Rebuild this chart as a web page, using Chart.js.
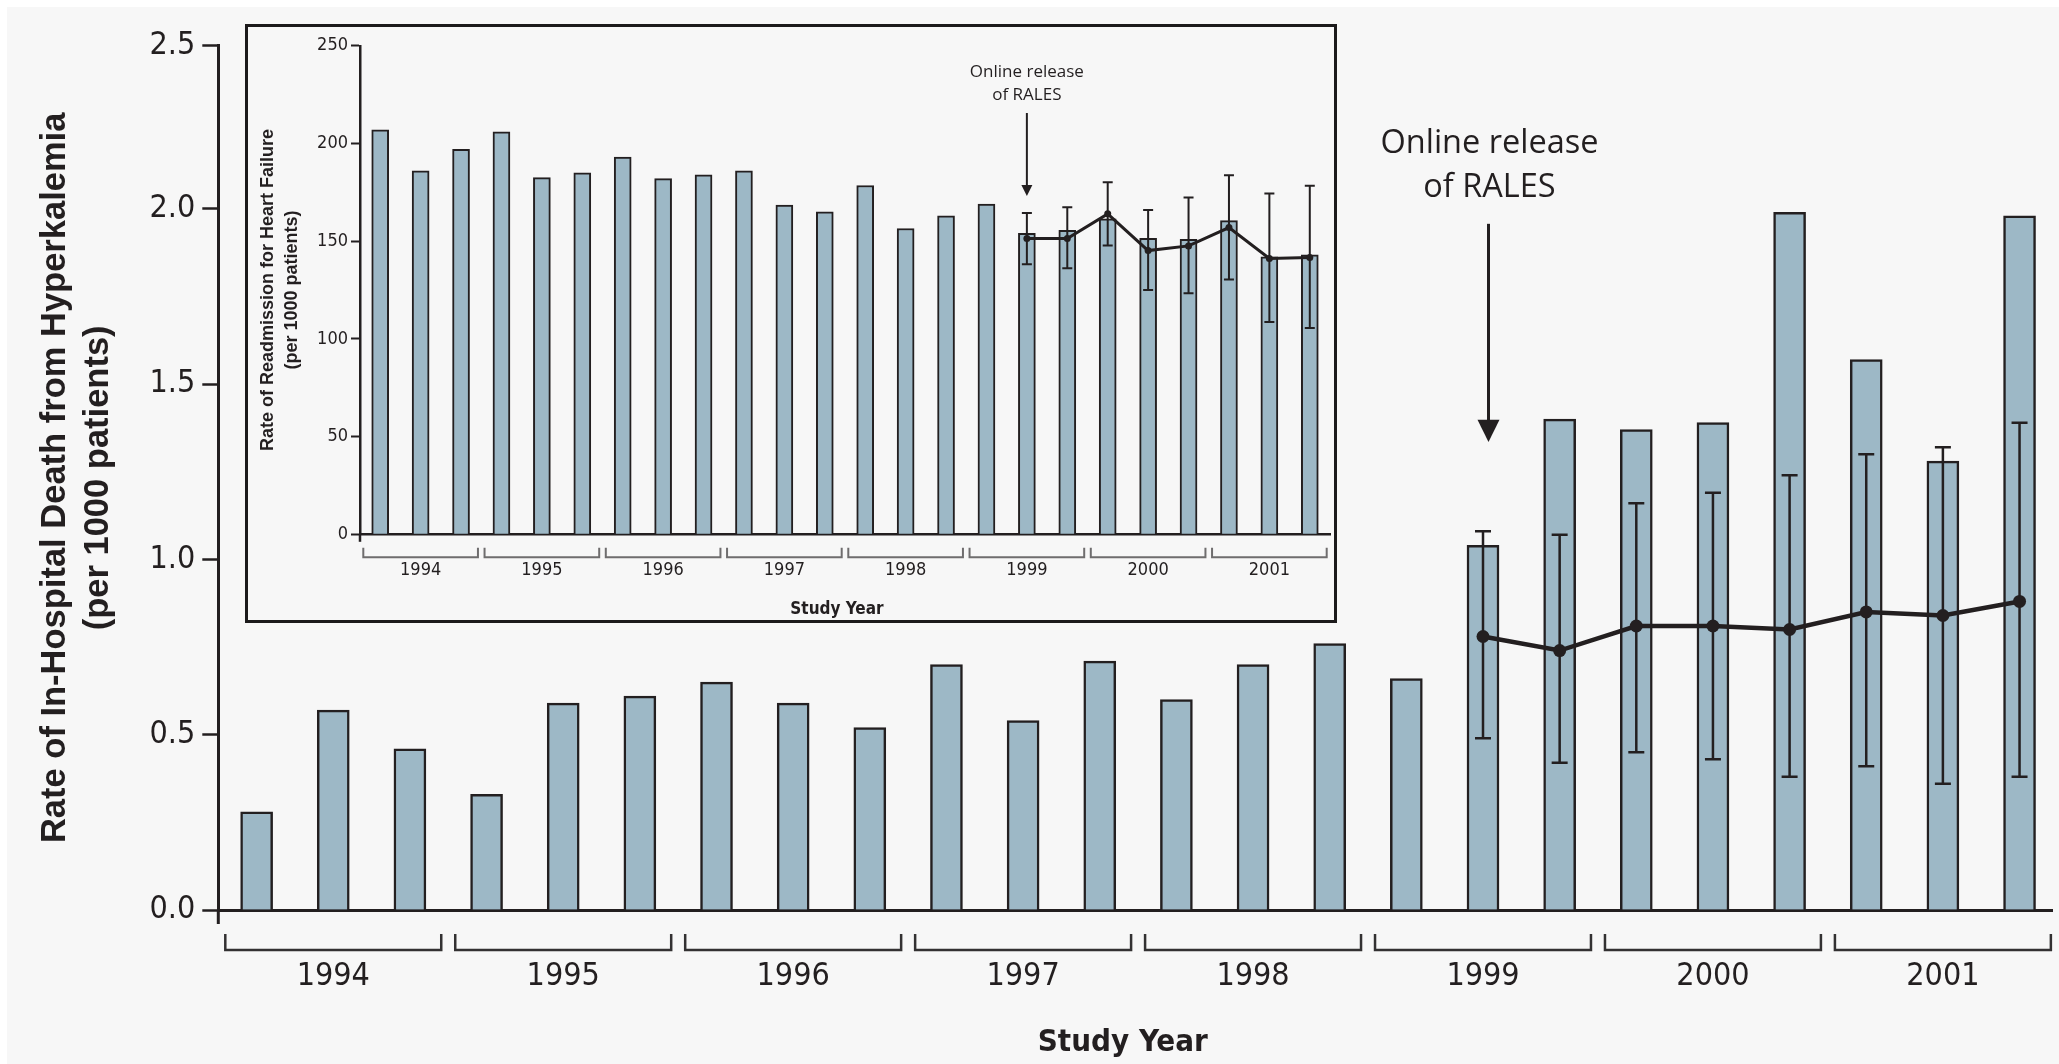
<!DOCTYPE html>
<html>
<head>
<meta charset="utf-8">
<title>Hyperkalemia deaths and heart-failure readmissions, 1994–2001</title>
<script src="https://cdn.jsdelivr.net/npm/chart.js@4.4.1/dist/chart.umd.min.js"></script>
<style>
  html, body { margin: 0; padding: 0; background: #ffffff; width: 2059px; height: 1064px; overflow: hidden; }
  #panel { position: absolute; left: 7px; top: 7px; right: 0; bottom: 0; background: #f7f7f7; }
  #main { position: absolute; left: 0; top: 0; }
  #insetBox { position: absolute; left: 245px; top: 24px; width: 1086px; height: 593px;
              border: 3px solid #1c1a1b; background: #f7f7f7; }
  #inset { display: block; }
</style>
</head>
<body>
<div id="panel"></div>
<canvas id="main" width="2059" height="1064"></canvas>
<div id="insetBox"><canvas id="inset" width="1086" height="593"></canvas></div>

<script>
// ---- data ----------------------------------------------------------------
const years = ['1994', '1995', '1996', '1997', '1998', '1999', '2000', '2001'];
const periodsPerYear = 3;

// In-hospital death from hyperkalemia (per 1000 patients), three periods per year
const deathRate = [0.28, 0.57, 0.46,  0.33, 0.59, 0.61,  0.65, 0.59, 0.52,
                   0.70, 0.54, 0.71,  0.60, 0.70, 0.76,  0.66, 1.04, 1.40,
                   1.37, 1.39, 1.99,  1.57, 1.28, 1.98];
// Expected rate after the RALES release (first period shown is index 16)
const expectedStart = 16;
const deathExpected = [0.78, 0.74, 0.81, 0.81, 0.80, 0.85, 0.84, 0.88];
const deathExpectedHigh = [1.08, 1.07, 1.16, 1.19, 1.24, 1.30, 1.32, 1.39];
const deathExpectedLow  = [0.49, 0.42, 0.45, 0.43, 0.38, 0.41, 0.36, 0.38];
const deathTicks = [0, 0.5, 1.0, 1.5, 2.0, 2.465];

// Readmission for heart failure (per 1000 patients)
const readmitRate = [207, 186, 197,  206, 182.5, 185,  193, 182, 184,
                     186, 168.5, 165,  178.5, 156.5, 163,  169, 154, 155.5,
                     161.5, 151.5, 151,  160.5, 142, 143];
const readmitExpected = [151.4, 151.4, 164, 145.2, 147.6, 157, 141.2, 141.6];
const readmitExpectedHigh = [164.4, 167.4, 180.2, 166, 172.4, 183.8, 174.4, 178.4];
const readmitExpectedLow  = [138.2, 136.2, 147.8, 125, 123.4, 130.4, 108.6, 105.6];
const readmitTicks = [0, 50, 100, 150, 200, 250];

const releaseLabel = ['Online release', 'of RALES'];

// ---- styling ---------------------------------------------------------------
const INK = '#231f20';
const BAR = '#9db8c6';
const NARROW = '"Liberation Sans Narrow", "DejaVu Sans Condensed", "Liberation Sans", sans-serif';
const BOLD = '"Liberation Sans", "DejaVu Sans", sans-serif';
const HUMANIST = '"Open Sans", "Lato", sans-serif';

const asPoints = (arr, start = 0) => arr.map((v, i) => ({ x: start + i, y: v }));

// Error bars drawn just before the expected-rate line so the line sits on top
const errorBars = {
  id: 'errorBars',
  beforeDatasetDraw(chart, args, opts) {
    if (args.index !== opts.datasetIndex) return;
    const { x, y } = chart.scales;
    const ctx = chart.ctx;
    ctx.save();
    ctx.strokeStyle = INK;
    ctx.lineWidth = opts.width;
    opts.high.forEach((hi, i) => {
      const px = x.getPixelForValue(opts.start + i);
      const top = y.getPixelForValue(hi);
      const bot = y.getPixelForValue(opts.low[i]);
      ctx.beginPath();
      ctx.moveTo(px, top); ctx.lineTo(px, bot);
      ctx.moveTo(px - opts.cap, top); ctx.lineTo(px + opts.cap, top);
      ctx.moveTo(px - opts.cap, bot); ctx.lineTo(px + opts.cap, bot);
      ctx.stroke();
    });
    ctx.restore();
  }
};

// Year brackets under the axis, the axis stub below zero, the axis title and the release arrow
const decorations = {
  id: 'decorations',
  afterDraw(chart, args, o) {
    const { x, y } = chart.scales;
    const ctx = chart.ctx;
    const area = chart.chartArea;
    ctx.save();

    // y-axis continues a little below the baseline
    ctx.strokeStyle = INK;
    ctx.lineWidth = o.axisWidth;
    ctx.beginPath();
    ctx.moveTo(area.left, area.bottom);
    ctx.lineTo(area.left, area.bottom + o.axisStub);
    ctx.stroke();

    // one bracket per study year
    ctx.strokeStyle = o.bracketColor;
    ctx.lineWidth = o.bracketWidth;
    years.forEach((yr, k) => {
      const a = x.getPixelForValue(k * periodsPerYear - 0.5) + o.bracketInset;
      const b = x.getPixelForValue(k * periodsPerYear + periodsPerYear - 0.5) - o.bracketInset;
      const t = area.bottom + o.bracketTop;
      const h = area.bottom + o.bracketBottom;
      ctx.beginPath();
      ctx.moveTo(a, t); ctx.lineTo(a, h); ctx.lineTo(b, h); ctx.lineTo(b, t);
      ctx.stroke();
    });

    // "Study Year"
    ctx.fillStyle = INK;
    ctx.font = o.titleFont;
    ctx.textAlign = 'center';
    ctx.textBaseline = 'alphabetic';
    ctx.fillText('Study Year', x.getPixelForValue(o.titleAt), area.bottom + o.titleBaseline);

    // release annotation
    const ax = x.getPixelForValue(expectedStart) + o.arrowDx;
    ctx.font = o.noteFont;
    releaseLabel.forEach((line, i) => ctx.fillText(line, ax + o.noteDx, y.getPixelForValue(o.noteBaselines[i])));
    const yTop = y.getPixelForValue(o.arrowFrom);
    const yHead = y.getPixelForValue(o.arrowHead);
    const yTip = y.getPixelForValue(o.arrowTip);
    ctx.strokeStyle = INK;
    ctx.lineWidth = o.arrowWidth;
    ctx.beginPath();
    ctx.moveTo(ax, yTop); ctx.lineTo(ax, yHead + 1);
    ctx.stroke();
    ctx.beginPath();
    ctx.moveTo(ax - o.arrowHalf, yHead);
    ctx.lineTo(ax + o.arrowHalf, yHead);
    ctx.lineTo(ax, yTip);
    ctx.closePath();
    ctx.fill();
    ctx.restore();
  }
};

function buildChart(canvas, cfg) {
  return new Chart(canvas, {
    type: 'bar',
    data: {
      datasets: [
        {
          type: 'line', order: 0,
          data: asPoints(cfg.expected, expectedStart),
          borderColor: INK, borderWidth: cfg.lineWidth, tension: 0,
          pointRadius: cfg.pointRadius, pointBackgroundColor: INK, pointBorderWidth: 0
        },
        {
          type: 'bar', order: 1,
          data: asPoints(cfg.rate),
          backgroundColor: BAR, borderColor: INK, borderWidth: cfg.barBorder,
          borderSkipped: 'start', barThickness: cfg.barThickness
        }
      ]
    },
    options: {
      responsive: false,
      animation: false,
      events: [],
      layout: { padding: cfg.padding },
      plugins: {
        legend: { display: false },
        tooltip: { enabled: false },
        errorBars: { datasetIndex: 0, start: expectedStart, high: cfg.high, low: cfg.low,
                     width: cfg.errWidth, cap: cfg.errCap },
        decorations: cfg.deco
      },
      scales: {
        x: {
          type: 'linear', min: -0.5, max: cfg.xMax, offset: false,
          grid: { display: false, drawTicks: false, offset: false },
          border: { display: true, width: cfg.axisWidth, color: INK },
          afterBuildTicks: s => { s.ticks = years.map((_, k) => ({ value: k * periodsPerYear + 1 })); },
          ticks: {
            autoSkip: false, maxRotation: 0, minRotation: 0,
            callback: (v, i) => years[i],
            color: INK, padding: cfg.xPad,
            font: { family: NARROW, size: cfg.tickSize }
          },
          afterFit: s => { s.height = cfg.xHeight; }
        },
        y: {
          min: 0, max: cfg.yTicks[cfg.yTicks.length - 1],
          afterBuildTicks: s => { s.ticks = cfg.yTicks.map(v => ({ value: v })); },
          grid: { drawOnChartArea: false, drawTicks: true, tickLength: cfg.tickLength,
                  tickWidth: cfg.tickWidth, color: INK },
          border: { display: true, width: cfg.axisWidth, color: INK },
          ticks: {
            callback: cfg.yLabel, color: INK, padding: cfg.yPad,
            font: { family: NARROW, size: cfg.tickSize }
          },
          title: {
            display: true, text: cfg.yTitle, color: INK,
            font: { family: BOLD, weight: 'bold', size: cfg.yTitleSize, lineHeight: cfg.yTitleLine },
            padding: { top: cfg.yTitlePad, bottom: 0 }
          },
          afterFit: s => { s.width = cfg.yWidth; }
        }
      }
    },
    plugins: [errorBars, decorations]
  });
}

// ---- main chart: in-hospital death from hyperkalemia -----------------------
buildChart(document.getElementById('main'), {
  rate: deathRate, expected: deathExpected, high: deathExpectedHigh, low: deathExpectedLow,
  yTicks: deathTicks, yLabel: v => v.toFixed(1),
  yTitle: ['Rate of In-Hospital Death from Hyperkalemia', '(per 1000 patients)'],
  yTitleSize: 34.5, yTitleLine: 1.26, yTitlePad: 33.5,
  padding: { top: 45.7, left: 0, right: 0, bottom: 0 },
  xMax: 23.43, yWidth: 218.3, xHeight: 154,
  tickSize: 32, tickLength: 16, tickWidth: 2.5, axisWidth: 3, xPad: 47, yPad: 7,
  barThickness: 32, barBorder: 2.5, lineWidth: 4.5, pointRadius: 6.5, errWidth: 2.5, errCap: 8,
  deco: {
    axisWidth: 3, axisStub: 14,
    bracketColor: '#333132', bracketWidth: 2.5, bracketInset: 7, bracketTop: 24, bracketBottom: 40,
    titleFont: 'bold 31px ' + NARROW, titleAt: 11.3, titleBaseline: 141,
    noteFont: '32.5px ' + HUMANIST, noteDx: 1, noteBaselines: [2.159, 2.034],
    arrowDx: 5.5, arrowFrom: 1.957, arrowHead: 1.398, arrowTip: 1.335, arrowHalf: 11, arrowWidth: 3
  }
});

// ---- inset: readmission for heart failure ----------------------------------
buildChart(document.getElementById('inset'), {
  rate: readmitRate, expected: readmitExpected, high: readmitExpectedHigh, low: readmitExpectedLow,
  yTicks: readmitTicks, yLabel: v => String(v),
  yTitle: ['Rate of Readmission for Heart Failure', '(per 1000 patients)'],
  yTitleSize: 18, yTitleLine: 1.33, yTitlePad: 8,
  padding: { top: 18.8, left: 0, right: 4, bottom: 0 },
  xMax: 23.5, yWidth: 112, xHeight: 85.7,
  tickSize: 18, tickLength: 9, tickWidth: 2, axisWidth: 2.5, xPad: 25, yPad: 3,
  barThickness: 17, barBorder: 2, lineWidth: 3, pointRadius: 3.5, errWidth: 2, errCap: 5,
  deco: {
    axisWidth: 2.5, axisStub: 7.5,
    bracketColor: '#6f6d6e', bracketWidth: 2, bracketInset: 3.3, bracketTop: 13.4, bracketBottom: 23,
    titleFont: 'bold 17px ' + NARROW, titleAt: 11.3, titleBaseline: 80,
    noteFont: '17px ' + HUMANIST, noteDx: 0, noteBaselines: [234, 222.5],
    arrowDx: 0, arrowFrom: 215.6, arrowHead: 178.8, arrowTip: 173.1, arrowHalf: 5.5, arrowWidth: 2
  }
});
</script>
</body>
</html>
